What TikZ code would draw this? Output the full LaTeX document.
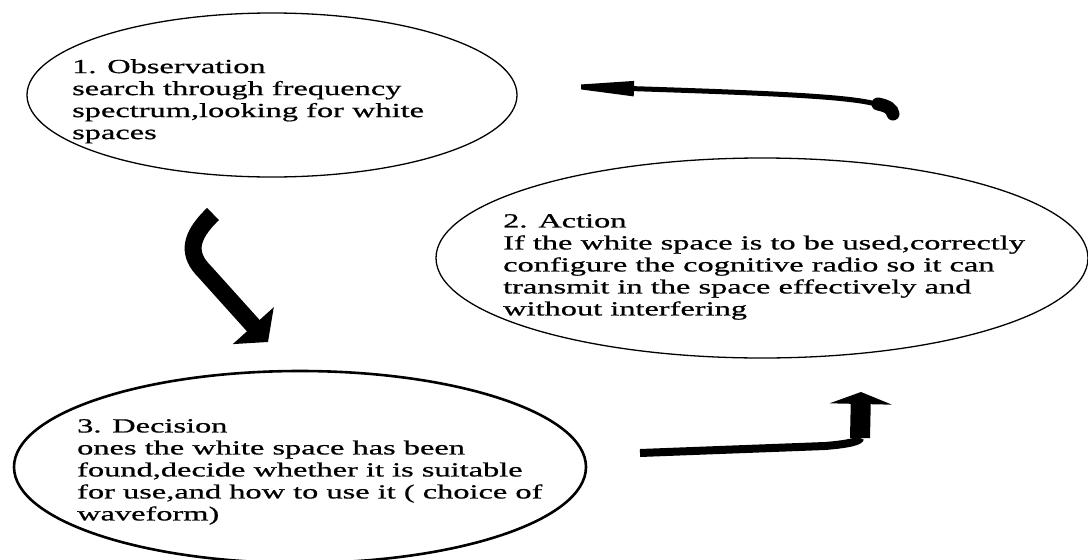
\documentclass[tikz,border=0pt]{standalone}
\usepackage{fontspec}
\setmainfont{Liberation Serif}[FakeStretch=1.62, FakeBold=0.8]
\usetikzlibrary{arrows.meta,shapes.geometric}
\tikzset{
	bubble/.style={draw, ellipse, inner sep=0pt, line width=1.3pt},
	note/.style={anchor=north west, inner sep=0pt, align=left, font=\fontsize{20}{22}\selectfont},
}

\begin{document}
\begin{tikzpicture}[x=1pt, y=-1pt]
			%%%%% START %%%%%
			\useasboundingbox (0, 0) rectangle (1088, 560);
			
			\node[bubble, minimum width=490pt, minimum height=164pt] (obs) at (272, 95) {};
			\node[note] (obstext) at (72, 59) {1. Observation\\search through frequency\\spectrum,looking for white\\spaces};
			
			\node[bubble, minimum width=652pt, minimum height=200pt] (act) at (762, 258) {};
			\node[note] (acttext) at (503, 214) {2. Action\\If the white space is to be used,correctly\\configure the cognitive radio so it can\\transmit in the space effectively and\\without interfering};
			
			\node[bubble, line width=2.6pt, minimum width=572pt, minimum height=192pt] (dec) at (300, 467) {};
			\node[note] (dectext) at (77, 419) {3. Decision\\ones the white space has been\\found,decide whether it is suitable\\for use,and how to use it ( choice of\\waveform)};
			
			% act -> obs
			\coordinate (a1s) at (893, 118);
			\coordinate (a1e) at (552, 86);
			\draw[line width=5pt, -{Triangle[length=82pt, width=14pt]}] (a1s) .. controls (893, 100) and (860, 96) .. (a1e);
			\draw[line width=13pt, line cap=round] (878, 104) .. controls (888, 106) and (892, 109) .. (893, 114);
			
			% obs -> dec
			\coordinate (a2s) at (213, 214);
			\coordinate (a2e) at (268, 342);
			\draw[line width=17pt, -{Triangle[length=22pt, width=54pt]}] (a2s) .. controls (188, 238) and (188, 255) .. (205, 272) -- (a2e);
			
			% dec -> act
			\coordinate (a3s) at (640, 453);
			\coordinate (a3k) at (860, 438);
			\coordinate (a3e) at (861, 392);
			\draw[line width=8pt] (a3s) -- (825, 446) .. controls (850, 444) and (860, 441) .. (a3k);
			\draw[line width=20pt, -{Triangle[length=12pt, width=62pt]}] (a3k) -- (a3e);
			%%%%% END %%%%%
\end{tikzpicture}
\end{document}
